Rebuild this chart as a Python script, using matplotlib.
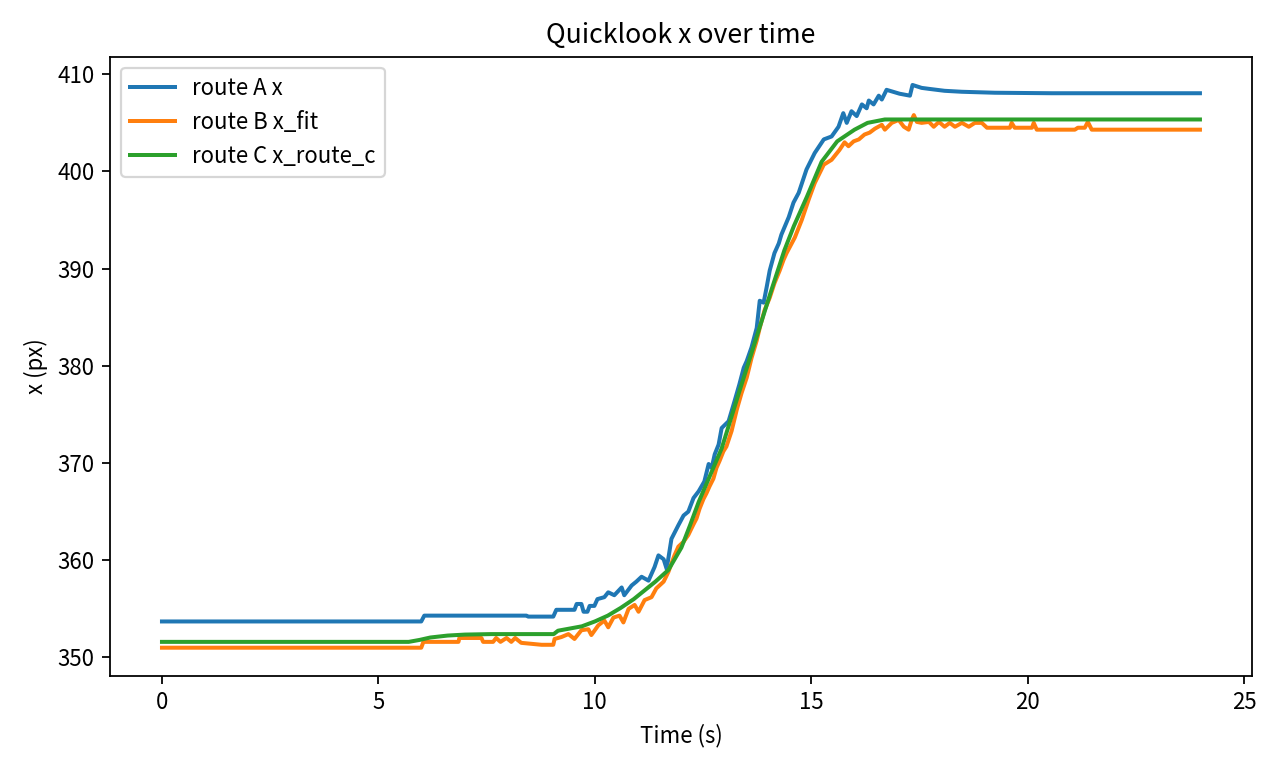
import matplotlib
matplotlib.use("Agg")
import matplotlib.pyplot as plt

plt.rcParams['font.family'] = ['Noto Sans CJK SC', 'DejaVu Sans']

# route A x
t_a = [0.00, 5.99, 6.06, 8.42, 8.46, 9.04, 9.11, 9.53, 9.58, 9.69, 9.74, 9.83,
       9.88, 9.99, 10.06, 10.22, 10.31, 10.45, 10.62, 10.68, 10.85, 10.96, 11.08,
       11.24, 11.38, 11.47, 11.59, 11.66, 11.77, 11.93, 12.05, 12.16, 12.28, 12.40,
       12.53, 12.63, 12.70, 12.77, 12.86, 12.93, 13.09, 13.23, 13.34, 13.44, 13.51,
       13.62, 13.74, 13.81, 13.90, 13.97, 14.04, 14.15, 14.25, 14.31, 14.48, 14.59,
       14.71, 14.89, 15.08, 15.29, 15.47, 15.63, 15.74, 15.82, 15.93, 16.05, 16.17,
       16.28, 16.33, 16.44, 16.56, 16.63, 16.74, 17.04, 17.28, 17.34, 17.55, 17.72,
       18.08, 18.48, 19.24, 20.56, 23.98]
x_a = [353.7, 353.7, 354.3, 354.3, 354.2, 354.2, 354.9, 354.9, 355.5, 355.5, 354.7, 354.7,
       355.3, 355.3, 356.0, 356.2, 356.7, 356.4, 357.2, 356.4, 357.4, 357.8, 358.3,
       357.9, 359.3, 360.5, 360.1, 359.1, 362.2, 363.6, 364.6, 365.0, 366.4, 367.1,
       368.1, 369.9, 369.5, 370.9, 371.9, 373.6, 374.3, 376.4, 378.1, 379.8, 380.5,
       381.9, 383.9, 386.7, 386.5, 388.1, 389.8, 391.6, 392.6, 393.5, 395.3, 396.8,
       397.8, 400.2, 401.9, 403.3, 403.6, 404.6, 406.0, 405.0, 406.2, 405.7, 406.9,
       406.5, 407.3, 406.9, 407.8, 407.4, 408.4, 408.0, 407.8, 408.9, 408.6, 408.5,
       408.3, 408.2, 408.1, 408.05, 408.05]

# route B x_fit
t_b = [0.00, 5.99, 6.04, 6.85, 6.87, 7.38, 7.42, 7.65, 7.72, 7.82, 7.96, 8.07, 8.16,
       8.30, 8.77, 9.04, 9.07, 9.23, 9.39, 9.53, 9.69, 9.85, 9.92, 10.08, 10.22, 10.31,
       10.43, 10.57, 10.66, 10.78, 10.92, 11.01, 11.15, 11.31, 11.42, 11.59, 11.70,
       11.84, 11.93, 12.05, 12.16, 12.28, 12.35, 12.42, 12.51, 12.58, 12.65, 12.74,
       12.81, 12.88, 12.97, 13.04, 13.16, 13.28, 13.39, 13.51, 13.62, 13.74, 13.81,
       13.92, 14.04, 14.15, 14.27, 14.36, 14.43, 14.62, 14.78, 14.94, 15.08, 15.29,
       15.47, 15.65, 15.77, 15.86, 15.98, 16.10, 16.23, 16.35, 16.47, 16.63, 16.70,
       16.86, 17.02, 17.14, 17.25, 17.32, 17.37, 17.44, 17.55, 17.72, 17.83, 17.95,
       18.08, 18.20, 18.32, 18.48, 18.64, 18.78, 18.94, 19.06, 19.59, 19.63, 19.70,
       20.10, 20.14, 20.21, 21.09, 21.16, 21.32, 21.39, 21.48, 23.98]
x_b = [351.0, 351.0, 351.6, 351.6, 352.0, 352.0, 351.6, 351.6, 352.0, 351.6, 352.0, 351.6, 352.0,
       351.5, 351.3, 351.3, 351.9, 352.1, 352.4, 351.9, 352.8, 352.9, 352.3, 353.3, 353.8, 353.1,
       354.1, 354.3, 353.6, 355.0, 355.4, 354.7, 355.9, 356.2, 357.1, 357.8, 358.8,
       360.5, 361.4, 361.9, 362.6, 363.7, 364.3, 365.3, 366.3, 366.9, 367.6, 368.4,
       369.5, 370.2, 371.2, 371.7, 373.3, 375.5, 377.2, 378.8, 380.8, 382.6, 383.9,
       385.7, 387.0, 388.5, 389.8, 390.9, 391.6, 393.2, 395.0, 397.1, 398.8, 400.7,
       401.2, 402.2, 403.0, 402.6, 403.1, 403.3, 403.8, 404.0, 404.4, 404.8, 404.3,
       405.0, 405.3, 404.6, 404.3, 405.3, 405.8, 405.1, 405.0, 405.1, 404.6, 405.1,
       404.6, 405.0, 404.6, 405.0, 404.6, 405.0, 405.0, 404.5, 404.5, 405.0, 404.5,
       404.5, 405.0, 404.3, 404.3, 404.5, 404.5, 405.1, 404.3, 404.3]

# route C x_route_c
t_c = [0.00, 5.70, 5.95, 6.20, 6.60, 7.00, 7.60, 9.05, 9.15, 9.70, 10.00, 10.30, 10.60,
       10.90, 11.15, 11.40, 11.70, 12.00, 12.20, 12.40, 12.93, 13.32, 13.69, 14.08,
       14.38, 14.60, 14.90, 15.24, 15.60, 16.00, 16.30, 16.70, 23.98]
x_c = [351.6, 351.6, 351.8, 352.05, 352.25, 352.35, 352.4, 352.4, 352.75, 353.2, 353.7, 354.3, 355.1,
       356.0, 356.9, 357.8, 359.0, 361.3, 363.6, 366.0, 371.5, 377.1, 382.3, 387.8,
       391.9, 394.4, 397.4, 401.0, 403.1, 404.3, 405.0, 405.35, 405.35]

fig, ax = plt.subplots(figsize=(8, 4.8), dpi=160)
fig.subplots_adjust(left=0.086, right=0.978, top=0.926, bottom=0.12)

ax.plot(t_a, x_a, linewidth=1.8, label='route A x')
ax.plot(t_b, x_b, linewidth=1.8, label='route B x_fit')
ax.plot(t_c, x_c, linewidth=1.8, label='route C x_route_c')

ax.set_title('Quicklook x over time')
ax.set_xlabel('Time (s)')
ax.set_ylabel('x (px)')
ax.legend(loc='upper left')

fig.savefig('out.png')
